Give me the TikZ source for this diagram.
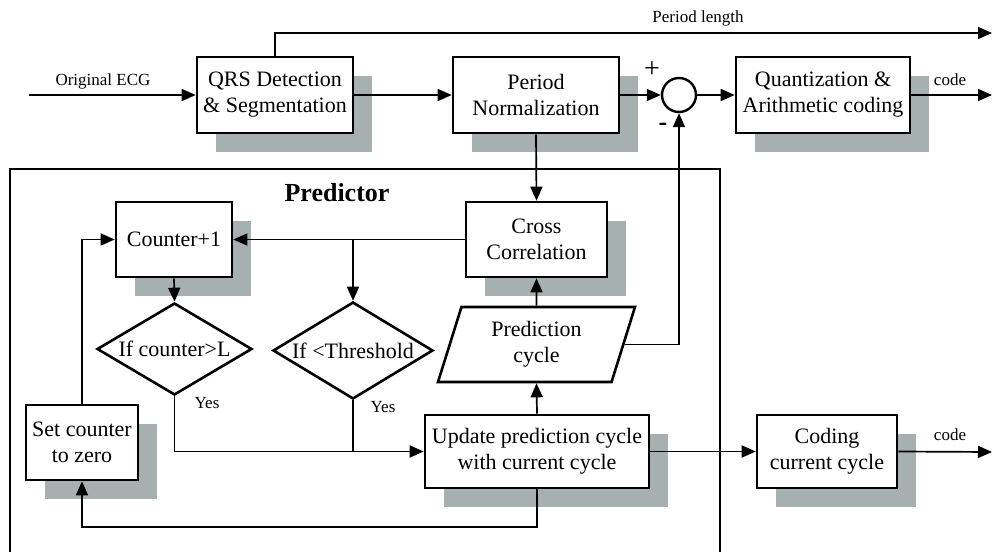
\documentclass[tikz,border=0pt]{standalone}
\usepackage{fontspec}
\setmainfont{Liberation Serif}
\usetikzlibrary{arrows.meta,shapes.geometric,shadows}
\definecolor{shadowgray}{RGB}{166,176,176}

\begin{document}
\begin{tikzpicture}[x=0.5pt,y=-0.5pt,
    blk/.style={draw,fill=white,line width=1.3pt,inner sep=0pt,align=center,
      font=\fontsize{11}{13}\selectfont,
      general shadow={fill=shadowgray,shadow xshift=9.5pt,shadow yshift=-9.5pt}},
    cond/.style={draw,fill=white,diamond,line width=1.3pt,inner sep=0pt,aspect=1.7,
      font=\fontsize{11}{13}\selectfont},
    lbl/.style={font=\fontsize{8.5}{10}\selectfont},
    conn/.style={line width=0.85pt},
    arr/.style={line width=0.85pt,-{Triangle[length=7pt,width=6pt]}}]
  \useasboundingbox (0,0) rectangle (993,552);

  %% predictor frame, open at the bottom
  \draw[line width=1.2pt] (10,552) -- (10,169) -- (720,169) -- (720,552);
  \node (PRED) at (337,193) [font=\fontsize{13}{15}\selectfont\bfseries] {Predictor};

  %% top row
  \coordinate (ecgin) at (29,95);
  \node (qrs) at (275,95) [blk,minimum width=78pt,minimum height=38pt] {QRS Detection\\\& Segmentation};
  \node (pnorm) at (536,95) [blk,minimum width=83pt,minimum height=38pt] {Period\\Normalization};
  \node (sum) at (679,95) [draw,circle,line width=1.2pt,minimum size=17pt,inner sep=0pt] {};
  \node (qac) at (823,95) [blk,minimum width=87pt,minimum height=38pt] {Quantization \&\\Arithmetic coding};
  \coordinate (qacout) at (992,95);
  \coordinate (plout) at (992,33);

  %% predictor blocks
  \node (cc) at (536.5,239.5) [blk,minimum width=70.5pt,minimum height=37.5pt] {Cross\\Correlation};
  \node (cnt) at (174,239.5) [blk,minimum width=58pt,minimum height=37.5pt] {Counter+1};
  \node (ifcnt) at (174.5,349) [cond,minimum width=77.5pt,minimum height=46pt] {If counter>L};
  \node (ifthr) at (353,350.5) [cond,minimum width=80pt,minimum height=48.5pt] {If <Threshold};
  \node (pcyc) at (536.5,344.5) [draw,fill=white,trapezium,trapezium left angle=63,
    trapezium right angle=117,trapezium stretches body,line width=1.3pt,inner sep=0pt,
    minimum width=98.5pt,minimum height=37.5pt,align=center,
    font=\fontsize{11}{13}\selectfont] {Prediction\\cycle};
  \node (upd) at (537,451.5) [blk,minimum width=112pt,minimum height=36.5pt] {Update prediction cycle\\with current cycle};
  \node (setz) at (82,442.5) [blk,minimum width=56pt,minimum height=37.5pt] {Set counter\\to zero};
  \node (cod) at (827,451.5) [blk,minimum width=70pt,minimum height=36.5pt] {Coding\\current cycle};
  \coordinate (codout) at (992,452);

  %% top row connectors
  \draw[arr] (ecgin) -- (qrs.west);
  \node (ECG) at (103,81) [lbl] {Original ECG};
  \draw[arr] (qrs.north) -- (qrs.north |- plout) -- (plout);
  \node (PLEN) at (698,18) [lbl] {Period length};
  \draw[arr] (qrs.east) -- (pnorm.west);
  \draw[arr] (pnorm.east) -- (sum.west);
  \draw[arr] (sum.east) -- (qac.west);
  \draw[arr] (qac.east) -- (qacout);
  \node (CODE1) at (950,80) [lbl] {code};
  \node (PLUS) at (652,70) [font=\fontsize{14}{16}\selectfont] {+};
  \node (MINUS) at (663,127) [font=\fontsize{13}{15}\selectfont\bfseries] {-};

  %% predictor connectors
  \draw[arr] (pnorm.south) -- (cc.north);
  \draw[arr] (cc.west) -- (cnt.east);
  \draw[arr] (ifthr.north |- cc.west) -- (ifthr.north);
  \draw[arr] (cnt.south) -- (ifcnt.north);
  \draw[arr] (pcyc.north) -- (cc.south);
  \draw[arr] (pcyc.east) -| (sum.south);
  \draw[arr] (upd.north) -- (pcyc.south);
  \draw[arr] (ifcnt.south) |- (upd.west);
  \draw[conn] (ifthr.south) -- (ifthr.south |- upd.west);
  \node (YES1) at (207,403) [lbl] {Yes};
  \node (YES2) at (383,407) [lbl] {Yes};
  \draw[arr] (setz.north) |- (cnt.west);
  \draw[arr] (upd.south) -- ++(0,38) -| (setz.south);
  \draw[arr] (upd.east) -- (cod.west);
  \draw[arr] (cod.east) -- (codout);
  \node (CODE2) at (950,435) [lbl] {code};

\end{tikzpicture}
\end{document}
